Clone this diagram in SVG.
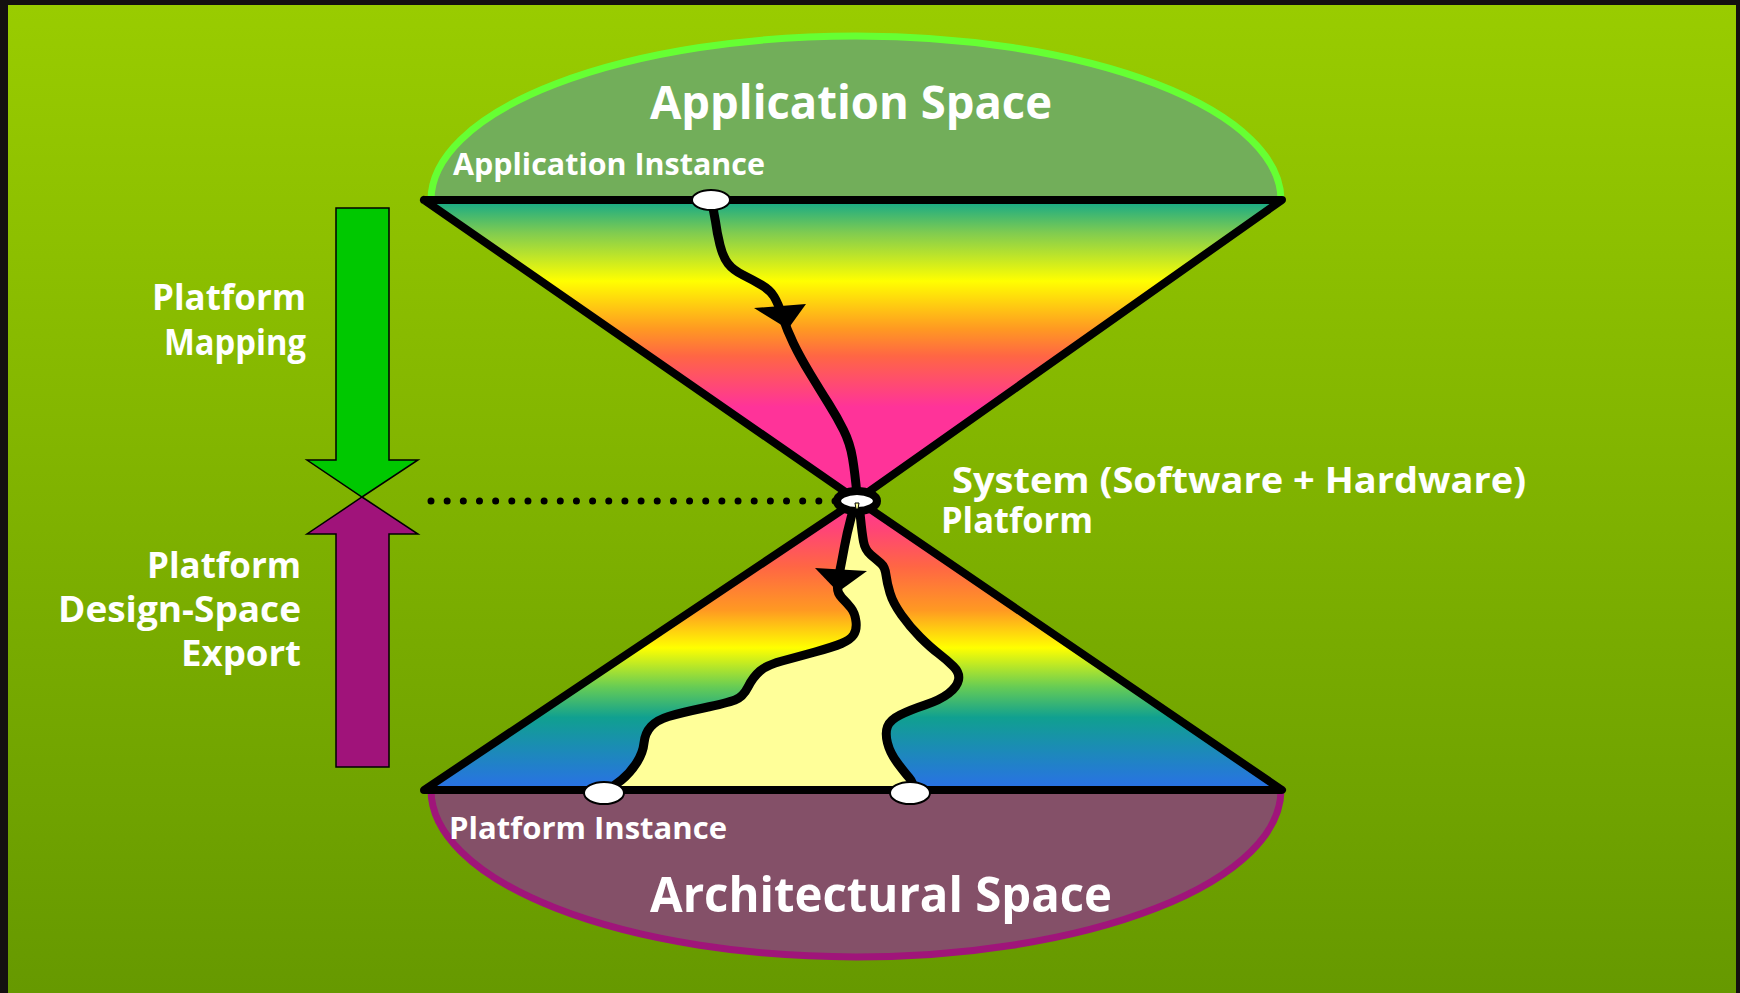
<svg xmlns="http://www.w3.org/2000/svg" width="1740" height="993" viewBox="0 0 1740 993">
  <defs>
    <linearGradient id="bg" x1="0" y1="0" x2="0" y2="1">
      <stop offset="0" stop-color="#99CC00"/>
      <stop offset="1" stop-color="#669900"/>
    </linearGradient>
    <linearGradient id="gTop" gradientUnits="userSpaceOnUse" x1="0" y1="200" x2="0" y2="500">
      <stop offset="0" stop-color="#10A88A"/>
      <stop offset="0.11" stop-color="#80CC50"/>
      <stop offset="0.27" stop-color="#FFFF00"/>
      <stop offset="0.43" stop-color="#FF9922"/>
      <stop offset="0.52" stop-color="#FF6644"/>
      <stop offset="0.69" stop-color="#FF3399"/>
      <stop offset="1" stop-color="#FF3399"/>
    </linearGradient>
    <linearGradient id="gBot" gradientUnits="userSpaceOnUse" x1="0" y1="500" x2="0" y2="790">
      <stop offset="0" stop-color="#FF3399"/>
      <stop offset="0.1" stop-color="#FF4477"/>
      <stop offset="0.23" stop-color="#FF6644"/>
      <stop offset="0.38" stop-color="#FF9922"/>
      <stop offset="0.51" stop-color="#FFFF00"/>
      <stop offset="0.645" stop-color="#66CC55"/>
      <stop offset="0.75" stop-color="#10A090"/>
      <stop offset="1" stop-color="#2A70E8"/>
    </linearGradient>
    <style>
      .lbl { font-family: "Open Sans", "DejaVu Sans", sans-serif; font-weight: 700; fill: #FFFFFF; }
      .edge { fill: none; stroke: #000; stroke-width: 8; stroke-linejoin: round; stroke-linecap: round; }
      .flow { fill: none; stroke: #000; stroke-width: 9; stroke-linejoin: round; stroke-linecap: round; }
      .node { fill: #FFFFFF; stroke: #000; stroke-width: 2; }
    </style>
  </defs>

  <g id="background">
    <rect x="0" y="0" width="1740" height="993" fill="#141010"/>
    <rect x="8" y="5" width="1728" height="988" fill="url(#bg)"/>
  </g>

  <g id="application-space">
    <path d="M431,200 A425,164 0 0 1 1281,200 Z" fill="#72AE5A" stroke="#66FF33" stroke-width="7"/>
    <text class="lbl" x="650" y="119" font-size="46" textLength="402" lengthAdjust="spacingAndGlyphs">Application Space</text>
    <text class="lbl" x="453" y="175" font-size="30" textLength="312" lengthAdjust="spacingAndGlyphs">Application Instance</text>
  </g>

  <g id="architectural-space">
    <path d="M431,790 A425,167 0 0 0 1281,790 Z" fill="#845068" stroke="#A0157A" stroke-width="7"/>
    <text class="lbl" x="449" y="839" font-size="31" textLength="278" lengthAdjust="spacingAndGlyphs">Platform Instance</text>
    <text class="lbl" x="650" y="912" font-size="49" textLength="462" lengthAdjust="spacingAndGlyphs">Architectural Space</text>
  </g>

  <g id="hourglass">
    <polygon points="424,200 1282,200 857,500" fill="url(#gTop)"/>
    <polygon points="857,500 1282,790 424,790" fill="url(#gBot)"/>
    <path d="M855,503 L851,518 Q847,533 844.5,546.5 Q842,560 840,570 Q838,580 837.5,586.5 Q837,593 842,598 Q847,603 851,608 Q855,613 856,621.5 Q857,630 853.5,635 Q850,640 841.5,643.5 Q833,647 815,652 Q797,657 782,661 Q767,665 760,671 Q753,677 748,687 Q743,697 735,700 Q727,703 703.5,708 Q680,713 668.5,716.5 Q657,720 651,726.5 Q645,733 644,743 Q643,753 636.5,763 Q630,773 621.5,780 Q613,787 604,792 L915,790 Q913,782 909,777.5 Q905,773 897.5,763 Q890,753 887.5,743 Q885,733 887.5,726.5 Q890,720 900,715 Q910,710 925,705 Q940,700 948.5,693.5 Q957,687 958.5,680 Q960,673 953.5,666.5 Q947,660 938.5,653.5 Q930,647 920,637 Q910,627 901.5,615 Q893,603 890,593 Q887,583 886,575 Q885,567 881,563.5 Q877,560 871,555 Q865,550 863.5,541.5 Q862,533 860.5,518 L859,503 Z" fill="#FFFF99"/>
    <polyline class="edge" points="424,200 1282,200 857,500 424,200"/>
    <polyline class="edge" points="857,500 1282,790 424,790 857,500"/>
  </g>

  <g id="connectors">
    <path class="flow" d="M713,208 L715.5,221.5 Q717,233 720,245 Q723,257 728,263.5 Q733,270 743,275 Q753,280 761.5,285 Q770,290 774,296.5 Q778,303 782.5,316.5 Q787,330 793.5,343.5 Q800,357 810,373.5 Q820,390 828.5,403.5 Q837,417 843.5,430 Q850,443 852.5,458 Q855,473 857,495"/>
    <polygon points="754,308 806,304 788,329" fill="#000"/>
    <path class="flow" d="M855,503 L851,518 Q847,533 844.5,546.5 Q842,560 840,570 Q838,580 837.5,586.5 Q837,593 842,598 Q847,603 851,608 Q855,613 856,621.5 Q857,630 853.5,635 Q850,640 841.5,643.5 Q833,647 815,652 Q797,657 782,661 Q767,665 760,671 Q753,677 748,687 Q743,697 735,700 Q727,703 703.5,708 Q680,713 668.5,716.5 Q657,720 651,726.5 Q645,733 644,743 Q643,753 636.5,763 Q630,773 621.5,780 Q613,787 604,792"/>
    <polygon points="815,568 867,571 838,592" fill="#000"/>
    <path class="flow" d="M859,503 L860.5,518 Q862,533 863.5,541.5 Q865,550 871,555 Q877,560 881,563.5 Q885,567 886,575 Q887,583 890,593 Q893,603 901.5,615 Q910,627 920,637 Q930,647 938.5,653.5 Q947,660 953.5,666.5 Q960,673 958.5,680 Q957,687 948.5,693.5 Q940,700 925,705 Q910,710 900,715 Q890,720 887.5,726.5 Q885,733 887.5,743 Q890,753 897.5,763 Q905,773 909,777.5 Q913,782 915,792"/>
    <line x1="431" y1="501" x2="835" y2="501" stroke="#000" stroke-width="7" stroke-linecap="round" stroke-dasharray="0 16.16"/>
  </g>

  <g id="node-application-instance">
    <ellipse class="node" cx="711" cy="200" rx="19" ry="10"/>
  </g>
  <g id="node-platform">
    <ellipse cx="857" cy="501" rx="20" ry="10" fill="#FFFFFF" stroke="#000" stroke-width="8"/>
    <path d="M855,503 L859,503 L858,509 L856,509 Z" fill="#FFFF99" stroke="#000" stroke-width="1"/>
  </g>
  <g id="node-platform-instance-1">
    <ellipse class="node" cx="604" cy="793" rx="20" ry="11"/>
  </g>
  <g id="node-platform-instance-2">
    <ellipse class="node" cx="910" cy="793" rx="20" ry="11"/>
  </g>

  <g id="platform-label">
    <text class="lbl" x="952" y="493" font-size="35" textLength="574" lengthAdjust="spacingAndGlyphs">System (Software + Hardware)</text>
    <text class="lbl" x="941" y="533" font-size="35" textLength="152" lengthAdjust="spacingAndGlyphs">Platform</text>
  </g>

  <g id="platform-mapping">
    <polygon points="336,208 389,208 389,460 418,460 362,497 307,460 336,460" fill="#00C800" stroke="#000" stroke-width="1.5"/>
    <text class="lbl" x="306" y="310" font-size="35" text-anchor="end" textLength="154" lengthAdjust="spacingAndGlyphs">Platform</text>
    <text class="lbl" x="306" y="355" font-size="35" text-anchor="end" textLength="142" lengthAdjust="spacingAndGlyphs">Mapping</text>
  </g>

  <g id="platform-export">
    <polygon points="362,497 418,534 389,534 389,767 336,767 336,534 307,534" fill="#A0137A" stroke="#000" stroke-width="1.5"/>
    <text class="lbl" x="301" y="578" font-size="35" text-anchor="end" textLength="154" lengthAdjust="spacingAndGlyphs">Platform</text>
    <text class="lbl" x="301" y="622" font-size="35" text-anchor="end" textLength="243" lengthAdjust="spacingAndGlyphs">Design-Space</text>
    <text class="lbl" x="301" y="666" font-size="35" text-anchor="end" textLength="120" lengthAdjust="spacingAndGlyphs">Export</text>
  </g>
</svg>
